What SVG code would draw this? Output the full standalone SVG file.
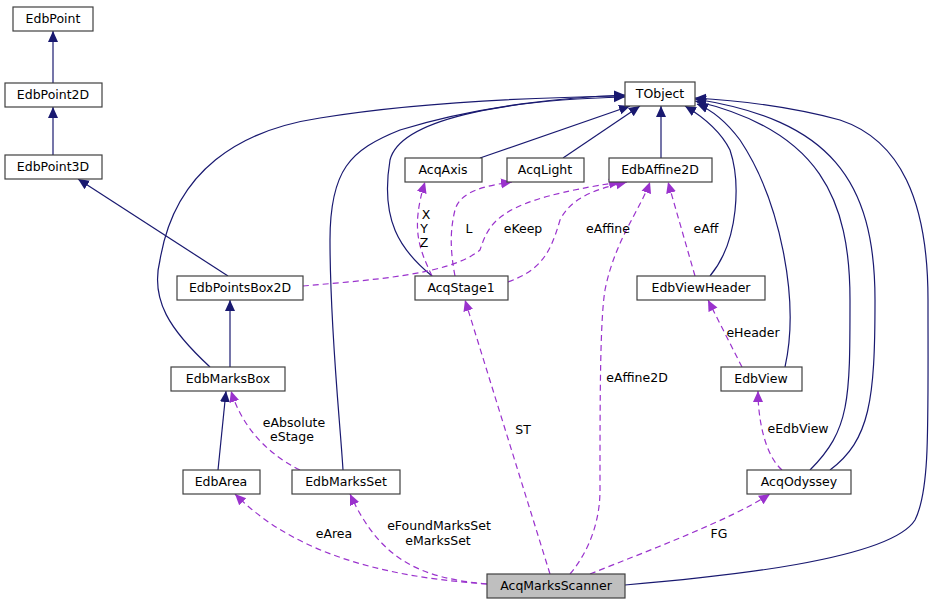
<svg xmlns="http://www.w3.org/2000/svg" width="931" height="605" viewBox="0 0 931 605">
<style>
.n rect{fill:#fff;stroke:#404040;stroke-width:1.2}
text{font-family:"DejaVu Sans",sans-serif;font-size:12.5px;fill:#000}
.n text{text-anchor:middle}
.i{fill:none;stroke:#191970;stroke-width:1.2;marker-end:url(#ai)}
.u{fill:none;stroke:#9a32cd;stroke-width:1.2;stroke-dasharray:6,4;marker-end:url(#au)}
.l{text-anchor:middle}
</style>
<defs>
<marker id="ai" markerUnits="userSpaceOnUse" markerWidth="12" markerHeight="12" refX="11" refY="5" orient="auto" viewBox="0 0 12 10"><path d="M0,0 L11,5 L0,10 Z" fill="#191970"/></marker>
<marker id="au" markerUnits="userSpaceOnUse" markerWidth="12" markerHeight="12" refX="11" refY="5" orient="auto" viewBox="0 0 12 10"><path d="M0,0 L11,5 L0,10 Z" fill="#9a32cd"/></marker>
</defs>
<rect width="931" height="605" fill="#fff"/>
<g id="edges">
<path class="i" d="M53,83 V31"/>
<path class="i" d="M53,155 V107"/>
<path class="i" d="M228,276 L78,179"/>
<path class="i" d="M230,367 V300"/>
<path class="i" d="M218,470 L226,391"/>
<path class="i" d="M210,367 C170,330 150,300 160,260 C175,170 240,130 320,118 C430,100 560,97 625,96"/>
<path class="i" d="M343,470 C340,420 330,330 330,240 C330,170 350,150 400,130 C480,105 570,97 625,95"/>
<path class="i" d="M432,276 C400,250 380,220 390,160 C400,120 500,100 625,97"/>
<path class="i" d="M480,158 L630,106"/>
<path class="i" d="M563,158 L640,106"/>
<path class="i" d="M661,158 V106"/>
<path class="i" d="M710,276 C740,240 740,180 730,150 C720,130 700,115 685,106"/>
<path class="i" d="M785,367 C800,300 780,200 740,140 C725,120 712,110 697,104"/>
<path class="i" d="M810,470 C850,430 850,400 850,300 C850,200 820,130 695,101"/>
<path class="i" d="M830,470 C870,440 875,400 875,300 C875,180 830,120 695,99"/>
<path class="i" d="M625,585 C720,577 890,560 915,520 C930,490 928,430 928,300 C928,200 900,140 840,120 C780,104 730,100 695,98"/>
<path class="u" d="M432,276 C420,250 410,230 425,182"/>
<path class="u" d="M455,276 C450,250 450,230 455,210 C460,190 490,185 512,182"/>
<path class="u" d="M303,286 C370,280 450,275 480,250 C490,220 500,200 620,182"/>
<path class="u" d="M508,282 C540,270 550,255 560,220 C570,200 590,190 627,182"/>
<path class="u" d="M695,276 L668,182"/>
<path class="u" d="M570,574 C590,550 600,520 600,490 C600,400 600,320 605,290 C615,240 640,210 650,182"/>
<path class="u" d="M742,367 L708,300"/>
<path class="u" d="M782,470 C765,455 758,420 758,391"/>
<path class="u" d="M550,574 L465,300"/>
<path class="u" d="M487,584 C400,578 300,560 235,494"/>
<path class="u" d="M487,584 C420,578 380,560 350,494"/>
<path class="u" d="M300,470 C260,450 240,420 231,391"/>
<path class="u" d="M590,574 C650,550 730,520 770,494"/>
<text class="l" x="426" y="219">X</text><text class="l" x="424" y="233">Y</text><text class="l" x="424" y="247">Z</text>
<text class="l" x="469" y="233">L</text>
<text class="l" x="523" y="233">eKeep</text>
<text class="l" x="608" y="233">eAffine</text>
<text class="l" x="706" y="233">eAff</text>
<text class="l" x="637" y="382">eAffine2D</text>
<text class="l" x="753" y="337">eHeader</text>
<text class="l" x="798" y="433">eEdbView</text>
<text class="l" x="523" y="434">ST</text>
<text class="l" x="334" y="538">eArea</text>
<text class="l" x="439" y="530">eFoundMarksSet</text><text class="l" x="438" y="545">eMarksSet</text>
<text class="l" x="294" y="427">eAbsolute</text><text class="l" x="292" y="441">eStage</text>
<text class="l" x="719" y="538">FG</text>
</g>
<g id="EdbPoint" class="n"><rect x="13" y="7" width="80" height="24"/><text x="53" y="23">EdbPoint</text></g>
<g id="EdbPoint2D" class="n"><rect x="5" y="83" width="97" height="24"/><text x="53" y="99">EdbPoint2D</text></g>
<g id="EdbPoint3D" class="n"><rect x="5" y="155" width="97" height="24"/><text x="53" y="171">EdbPoint3D</text></g>
<g id="TObject" class="n"><rect x="625" y="82" width="70" height="24"/><text x="660" y="98">TObject</text></g>
<g id="AcqAxis" class="n"><rect x="405" y="158" width="77" height="24"/><text x="443" y="174">AcqAxis</text></g>
<g id="AcqLight" class="n"><rect x="507" y="158" width="77" height="24"/><text x="545" y="174">AcqLight</text></g>
<g id="EdbAffine2D" class="n"><rect x="609" y="158" width="103" height="24"/><text x="660" y="174">EdbAffine2D</text></g>
<g id="EdbPointsBox2D" class="n"><rect x="177" y="276" width="126" height="24"/><text x="240" y="292">EdbPointsBox2D</text></g>
<g id="AcqStage1" class="n"><rect x="415" y="276" width="93" height="24"/><text x="461" y="292">AcqStage1</text></g>
<g id="EdbViewHeader" class="n"><rect x="637" y="276" width="128" height="24"/><text x="701" y="292">EdbViewHeader</text></g>
<g id="EdbMarksBox" class="n"><rect x="171" y="367" width="114" height="24"/><text x="228" y="383">EdbMarksBox</text></g>
<g id="EdbView" class="n"><rect x="721" y="367" width="81" height="24"/><text x="761" y="383">EdbView</text></g>
<g id="EdbArea" class="n"><rect x="183" y="470" width="77" height="24"/><text x="221" y="486">EdbArea</text></g>
<g id="EdbMarksSet" class="n"><rect x="292" y="470" width="108" height="24"/><text x="346" y="486">EdbMarksSet</text></g>
<g id="AcqOdyssey" class="n"><rect x="747" y="470" width="104" height="24"/><text x="799" y="486">AcqOdyssey</text></g>
<g id="AcqMarksScanner" class="n"><rect x="487" y="574" width="138" height="24" style="fill:#bfbfbf"/><text x="556" y="590">AcqMarksScanner</text></g>
</svg>
